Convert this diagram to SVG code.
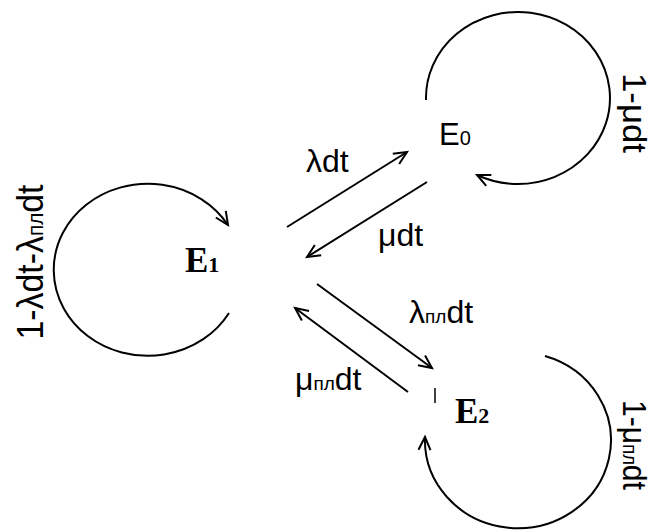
<svg xmlns="http://www.w3.org/2000/svg" width="652" height="532" viewBox="0 0 652 532">
<defs>
<marker id="ah" markerUnits="userSpaceOnUse" markerWidth="30" markerHeight="30" refX="0" refY="0" orient="auto" overflow="visible">
<path d="M-13,-6 L0,0 L-13,6" fill="none" stroke="#000" stroke-width="2"/>
</marker>
<style>
.ln{fill:none;stroke:#000;stroke-width:2;marker-end:url(#ah)}
.lb{font-family:"Liberation Sans",Arial,sans-serif;fill:#000}
.nd{font-family:"Liberation Serif","Times New Roman",serif;font-weight:bold;fill:#000}
</style>
</defs>
<rect width="652" height="532" fill="#fff"/>
<g id="E1">
<text class="nd" x="185" y="272" font-size="35">E<tspan font-size="22">1</tspan></text>
</g>
<g id="E0">
<text class="lb" x="439" y="145" font-size="31">E<tspan font-size="20">0</tspan></text>
</g>
<g id="E2">
<text class="nd" x="455" y="423" font-size="35">E<tspan font-size="22">2</tspan></text>
<line x1="435" y1="388" x2="435" y2="403" stroke="#000" stroke-width="1.5"/>
</g>
<g id="connectors">
<path class="ln" d="M229,313 A94,86 0 1 1 228,225"/>
<path class="ln" d="M426,100 A92,86 0 1 1 477,175"/>
<path class="ln" d="M545,356 A93,88 0 1 1 425,437"/>
<path class="ln" d="M287,227 L407,152"/>
<path class="ln" d="M427,182 L307,257"/>
<path class="ln" d="M317,284 L432,368"/>
<path class="ln" d="M408,392 L295,308"/>
</g>
<g id="labels">
<text class="lb" x="306" y="172" font-size="32">λdt</text>
<text class="lb" x="378" y="246" font-size="32">μdt</text>
<text class="lb" x="409" y="323" font-size="32">λ<tspan font-size="19">пл</tspan>dt</text>
<text class="lb" x="295" y="390" font-size="32">μ<tspan font-size="19">пл</tspan>dt</text>
<text class="lb" transform="translate(43,262) rotate(-90)" text-anchor="middle" font-size="36" textLength="155" lengthAdjust="spacingAndGlyphs">1-λdt-λ<tspan font-size="22">пл</tspan>dt</text>
<text class="lb" transform="translate(623,113) rotate(90)" text-anchor="middle" font-size="33" textLength="80" lengthAdjust="spacingAndGlyphs">1-μdt</text>
<text class="lb" transform="translate(623,445) rotate(90)" text-anchor="middle" font-size="33" textLength="90" lengthAdjust="spacingAndGlyphs">1-μ<tspan font-size="20">пл</tspan>dt</text>
</g>
</svg>
